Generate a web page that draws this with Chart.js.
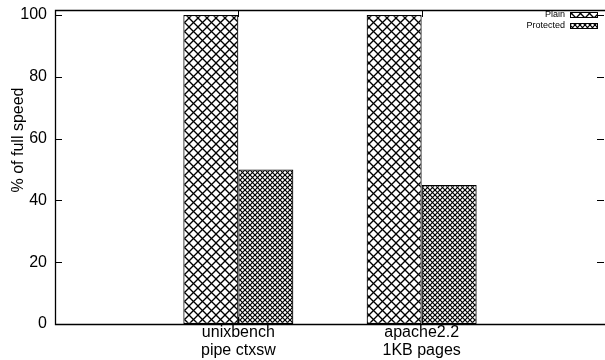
<!DOCTYPE html>
<html>
<head>
<meta charset="utf-8">
<script src="https://cdn.jsdelivr.net/npm/chart.js@4/dist/chart.umd.min.js"></script>
<style>
  html, body { margin: 0; padding: 0; background: #fff; }
  #wrap { width: 605px; height: 360px; }
</style>
</head>
<body>
<div id="wrap"><canvas id="c" width="605" height="360"></canvas></div>
<script>
// Benchmarks, two lines per label
const categories = [['unixbench', 'pipe ctxsw'], ['apache2.2', '1KB pages']];
const seriesNames = ['Plain', 'Protected'];
const plainValues = [100, 100];
const protectedValues = [50, 45];
const yTicks = [0, 20, 40, 60, 80, 100];
const yTitle = '% of full speed';

const FONT = '"Liberation Sans", Arial, Helvetica, sans-serif';

// Hatch fills
function lattice(size, width) {
  const t = document.createElement('canvas');
  t.width = size; t.height = size;
  const g = t.getContext('2d');
  g.fillStyle = '#fff';
  g.fillRect(0, 0, size, size);
  g.strokeStyle = '#000';
  g.lineWidth = width;
  for (const o of [-size, 0, size]) {
    g.beginPath(); g.moveTo(o, 0); g.lineTo(o + size, size); g.stroke();
    g.beginPath(); g.moveTo(o, size); g.lineTo(o + size, 0); g.stroke();
  }
  return t;
}
function dotted(size) {
  const t = document.createElement('canvas');
  t.width = size; t.height = size;
  const g = t.getContext('2d');
  g.fillStyle = '#fff';
  g.fillRect(0, 0, size, size);
  g.strokeStyle = '#000';
  g.lineWidth = 1.2;
  for (const o of [-size, 0, size]) {
    g.beginPath(); g.moveTo(o, 0); g.lineTo(o + size, size); g.stroke();
    g.beginPath(); g.moveTo(o, size); g.lineTo(o + size, 0); g.stroke();
  }
  g.fillStyle = '#000';
  g.fillRect(size / 2 - 0.5, size / 2 - 0.5, 1, 1);
  return t;
}
const ctx0 = document.getElementById('c').getContext('2d');
const plainFill = ctx0.createPattern(lattice(9, 1.3), 'repeat');
const protFill = ctx0.createPattern(dotted(5), 'repeat');
const fills = [plainFill, protFill];

// Empty slots on both ends give the x range around the two clusters
const labels = [''].concat(categories, ['']);
const pad = arr => [null].concat(arr, [null]);

// Frame, inward ticks, axis title and key
const framePlugin = {
  id: 'frame',
  beforeDatasetsDraw(chart) {
    const { ctx, chartArea: a, scales: { x, y } } = chart;
    ctx.save();
    ctx.strokeStyle = '#000';
    ctx.lineWidth = 1;
    const L = 7;
    y.ticks.forEach((t, i) => {
      const py = Math.round(y.getPixelForTick(i)) + 0.5;
      ctx.beginPath(); ctx.moveTo(a.left, py); ctx.lineTo(a.left + L, py); ctx.stroke();
      ctx.beginPath(); ctx.moveTo(a.right - 1, py); ctx.lineTo(a.right - 1 - L, py); ctx.stroke();
    });
    for (let i = 1; i <= categories.length; i++) {
      const px = Math.round(x.getPixelForTick(i)) + 0.5;
      ctx.beginPath(); ctx.moveTo(px, a.top); ctx.lineTo(px, a.top + L); ctx.stroke();
      ctx.beginPath(); ctx.moveTo(px, a.bottom); ctx.lineTo(px, a.bottom - L); ctx.stroke();
    }
    ctx.restore();
  },
  afterDatasetsDraw(chart) {
    const { ctx, chartArea: a } = chart;
    ctx.save();
    ctx.strokeStyle = '#000';
    ctx.lineWidth = 1.3;
    // left, top and bottom border; the right edge falls at the canvas edge
    const l = Math.round(a.left) + 0.5, t = Math.round(a.top) + 0.5, b = Math.round(a.bottom) + 0.5;
    ctx.beginPath();
    ctx.moveTo(a.right, t); ctx.lineTo(l, t); ctx.lineTo(l, b); ctx.lineTo(a.right, b);
    ctx.stroke();
    // y axis title, rotated
    ctx.save();
    ctx.translate(19, 140);
    ctx.rotate(-Math.PI / 2);
    ctx.font = '16px ' + FONT;
    ctx.textAlign = 'center';
    ctx.textBaseline = 'middle';
    ctx.fillStyle = '#000';
    ctx.fillText(yTitle, 0, 0);
    ctx.restore();
    // key
    ctx.font = '9px ' + FONT;
    ctx.textAlign = 'right';
    ctx.textBaseline = 'middle';
    ctx.fillStyle = '#000';
    seriesNames.forEach((name, i) => {
      const cy = 15 + i * 11;
      ctx.fillText(name, 565, cy);
      ctx.fillStyle = fills[i];
      ctx.fillRect(570, cy - 2.5, 27, 5);
      ctx.fillStyle = '#000';
      ctx.lineWidth = 1;
      ctx.strokeRect(570.5, cy - 2.5, 27, 5);
    });
    ctx.restore();
  }
};

new Chart(ctx0, {
  type: 'bar',
  data: {
    labels: labels,
    datasets: [
      { label: seriesNames[0], data: pad(plainValues), backgroundColor: plainFill,
        borderColor: '#000', borderWidth: 1.2, borderSkipped: false,
        categoryPercentage: 0.6, barPercentage: 1.0 },
      { label: seriesNames[1], data: pad(protectedValues), backgroundColor: protFill,
        borderColor: '#000', borderWidth: 1.2, borderSkipped: false,
        categoryPercentage: 0.6, barPercentage: 1.0 }
    ]
  },
  options: {
    responsive: false,
    animation: false,
    devicePixelRatio: 1,
    layout: { padding: { top: 10, right: 0, left: 0, bottom: 0 } },
    plugins: { legend: { display: false }, tooltip: { enabled: false } },
    scales: {
      x: {
        type: 'category',
        offset: false,
        grid: { display: false, drawTicks: false },
        border: { display: false },
        ticks: { color: '#000', font: { family: FONT, size: 16, lineHeight: 1.1 },
                 padding: 0, maxRotation: 0, autoSkip: false },
        afterFit(s) { s.height = 36; s.paddingLeft = 0; s.paddingRight = 0; }
      },
      y: {
        min: 0,
        max: 101.6,
        grid: { display: false, drawTicks: false },
        border: { display: false },
        afterBuildTicks(s) { s.ticks = yTicks.map(v => ({ value: v })); },
        ticks: { color: '#000', font: { family: FONT, size: 16 }, padding: 8 },
        afterFit(s) { s.width = 55; s.paddingTop = 0; s.paddingBottom = 0; }
      }
    }
  },
  plugins: [framePlugin]
});
</script>
</body>
</html>
